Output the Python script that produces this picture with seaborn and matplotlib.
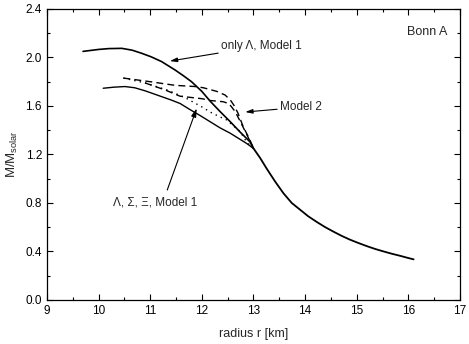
import matplotlib
matplotlib.use("Agg")
import matplotlib.pyplot as plt
import seaborn as sns
import numpy as np

# shared low-mass branch (all curves coincide here)
tail_r = [13.0, 13.13, 13.26, 13.42, 13.58, 13.74, 13.9, 14.06, 14.23, 14.39, 14.55,
          14.71, 14.87, 15.03, 15.2, 15.36, 15.52, 15.68, 15.84, 15.97, 16.1]
tail_m = [1.25, 1.17, 1.08, 0.976, 0.88, 0.80, 0.745, 0.69, 0.642, 0.60, 0.563,
          0.528, 0.497, 0.47, 0.443, 0.42, 0.40, 0.381, 0.364, 0.349, 0.335]

# only Lambda, Model 1
lam1_r = [9.70, 10.0, 10.2, 10.45, 10.65, 10.83, 11.02, 11.22, 11.48, 11.64, 11.80,
          12.0, 12.16, 12.35, 12.55, 12.74, 12.93, 13.0]
lam1_m = [2.05, 2.066, 2.073, 2.075, 2.06, 2.035, 2.005, 1.966, 1.897, 1.85, 1.80,
          1.72, 1.64, 1.555, 1.47, 1.385, 1.305, 1.25]

# Lambda, Sigma, Xi, Model 1
lsx1_r = [10.09, 10.3, 10.51, 10.7, 10.9, 11.2, 11.4, 11.58, 11.77, 11.97, 12.16,
          12.35, 12.55, 12.72, 12.87, 13.0]
lsx1_m = [1.746, 1.755, 1.76, 1.75, 1.725, 1.68, 1.65, 1.62, 1.57, 1.52, 1.47,
          1.42, 1.375, 1.33, 1.29, 1.25]

# Model 2 curves
lam2_r = [10.48, 11.0, 11.48, 11.87, 12.03, 12.29, 12.45, 12.55, 12.63, 12.70, 12.80,
          12.93, 13.0]
lam2_m = [1.83, 1.80, 1.77, 1.76, 1.75, 1.72, 1.69, 1.65, 1.60, 1.54, 1.43, 1.32, 1.25]

lsx2_r = [10.9, 11.3, 11.58, 12.0, 12.16, 12.41, 12.52, 12.58, 12.65, 12.71, 12.84, 13.0]
lsx2_m = [1.79, 1.73, 1.68, 1.66, 1.645, 1.635, 1.62, 1.59, 1.55, 1.50, 1.39, 1.25]

dot_r = [10.48, 10.9, 11.34, 11.67, 12.03, 12.16, 12.35, 12.48, 12.6, 12.74, 12.87, 13.0]
dot_m = [1.83, 1.79, 1.73, 1.67, 1.585, 1.55, 1.51, 1.485, 1.44, 1.39, 1.30, 1.25]

sns.set_style("ticks")
plt.rcParams["font.family"] = ["Liberation Sans", "DejaVu Sans"]
plt.rcParams["mathtext.default"] = "regular"
plt.rcParams["lines.solid_joinstyle"] = "round"
plt.rcParams["lines.dash_joinstyle"] = "round"

fig, ax = plt.subplots(figsize=(4.69, 3.44), dpi=100)
fig.subplots_adjust(left=0.100, right=0.981, bottom=0.128, top=0.974)

kw = dict(color="black", sort=False, estimator=None, ax=ax, legend=False)
sns.lineplot(x=lam1_r, y=lam1_m, lw=1.2, **kw)
sns.lineplot(x=lsx1_r, y=lsx1_m, lw=1.0, **kw)
sns.lineplot(x=lam2_r, y=lam2_m, lw=1.0, **kw).lines[-1].set_dashes([5, 3])
sns.lineplot(x=lsx2_r, y=lsx2_m, lw=1.0, **kw).lines[-1].set_dashes([5, 3])
sns.lineplot(x=dot_r, y=dot_m, lw=1.0, **kw).lines[-1].set_dashes([1, 3])
sns.lineplot(x=tail_r, y=tail_m, lw=1.3, **kw)

ax.set_xlim(9, 17)
ax.set_ylim(0, 2.4)
ax.set_xticks(np.arange(9, 18, 1))
ax.set_xticks(np.arange(9, 17.01, 0.5), minor=True)
ax.set_yticks(np.arange(0, 2.41, 0.4))
ax.set_yticks(np.arange(0, 2.41, 0.2), minor=True)
ax.yaxis.set_major_formatter(matplotlib.ticker.FormatStrFormatter("%.1f"))
ax.tick_params(which="both", direction="in", top=True, right=True,
               labelsize=8.5, width=0.8, color="black", labelcolor="black")
ax.tick_params(which="major", length=4)
ax.tick_params(which="minor", length=2.5)
for s in ax.spines.values():
    s.set_linewidth(0.9)
    s.set_color("black")

ax.set_xlabel("radius r [km]", fontsize=9, labelpad=8)
ax.set_ylabel(r"M/M$_{solar}$", fontsize=9.5, labelpad=4)

arrow = dict(arrowstyle="-|>,head_length=0.5,head_width=0.15", color="black", lw=0.8,
             shrinkA=0, shrinkB=0)
ax.annotate("only Λ, Model 1", xy=(11.38, 1.97), xytext=(12.38, 2.095),
            fontsize=8.5, va="center", ha="left", arrowprops=arrow)
ax.annotate("Model 2", xy=(12.84, 1.55), xytext=(13.52, 1.59),
            fontsize=8.5, va="center", ha="left", arrowprops=arrow)
ax.annotate("", xy=(11.9, 1.58), xytext=(11.33, 0.907), arrowprops=arrow)
ax.text(10.28, 0.80, "Λ, Σ, Ξ, Model 1", fontsize=8.5, va="center", ha="left")
ax.text(16.75, 2.21, "Bonn A", fontsize=9, va="center", ha="right")

fig.savefig("out.png", dpi=100)
